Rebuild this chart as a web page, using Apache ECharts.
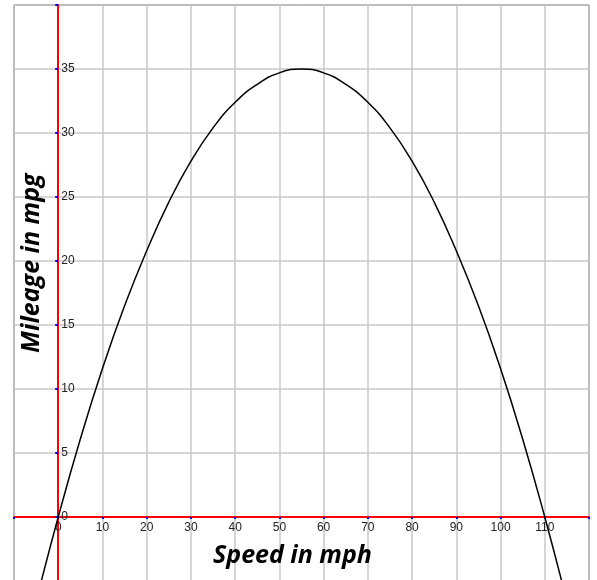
<!DOCTYPE html>
<html>
<head>
<meta charset="utf-8">
<script src="https://cdn.jsdelivr.net/npm/echarts@6/dist/echarts.min.js"></script>
<style>
html,body{margin:0;padding:0;background:#fff;}
#chart{width:597px;height:580px;}
</style>
</head>
<body>
<div id="chart"></div>
<script>
// Speed (mph)
var speeds = [-5, 0, 5, 10, 15, 20, 25, 30, 35, 40, 45, 50, 55, 60, 65, 70, 75, 80, 85, 90, 95, 100, 105, 110, 115];
// Mileage (mpg)
var mileage = [-6.6, 0, 6.1, 11.6, 16.5, 20.8, 24.6, 27.8, 30.4, 32.4, 33.8, 34.7, 35.0, 34.7, 33.8, 32.4, 30.4, 27.8, 24.6, 20.8, 16.5, 11.6, 6.1, 0, -6.6];
// Tick labels shown
var xTickLabels = ['0', '10', '20', '30', '40', '50', '60', '70', '80', '90', '100', '110'];
var yTickLabels = ['0', '5', '10', '15', '20', '25', '30', '35'];
var xTitle = 'Speed in mph';
var yTitle = 'Mileage in mpg';

var chart = echarts.init(document.getElementById('chart'), null, {renderer: 'canvas'});
var pts = speeds.map(function (s, i) { return [s, mileage[i]]; });
var labelFont = {fontFamily: 'Liberation Sans, Arial, sans-serif', fontSize: 12, color: '#222'};
var X_MIN = -10, X_MAX = 120, Y_MIN = -5, Y_MAX = 40;

chart.setOption({
  animation: false,
  backgroundColor: '#fff',
  grid: {left: 14, top: 5, width: 575, height: 576, containLabel: false, outerBoundsMode: 'none',
         show: true, borderColor: '#333', borderWidth: 1, backgroundColor: 'transparent'},
  xAxis: {
    type: 'value', min: X_MIN, max: X_MAX, interval: 10, position: 'bottom', offset: 0,
    axisLine: {onZero: false, lineStyle: {color: '#ff0000', width: 2}},
    axisTick: {show: true, length: 2, lineStyle: {color: '#0000ff', width: 2}},
    axisLabel: Object.assign({margin: 5, showMinLabel: true, showMaxLabel: true,
      formatter: function (v) { var s = String(v); return xTickLabels.indexOf(s) >= 0 ? s : ''; }}, labelFont),
    splitLine: {show: true, lineStyle: {color: '#c8c8c8', width: 1.5}}
  },
  yAxis: {
    type: 'value', min: Y_MIN, max: Y_MAX, interval: 5, position: 'left', offset: 0,
    axisLine: {onZero: false, lineStyle: {color: '#ff0000', width: 2}},
    axisTick: {show: true, length: 3, lineStyle: {color: '#0000ff', width: 2}},
    axisLabel: Object.assign({inside: true, margin: 3, showMinLabel: true, showMaxLabel: true,
      formatter: function (v) { var s = String(v); return yTickLabels.indexOf(s) >= 0 ? s : ''; }}, labelFont),
    splitLine: {show: true, lineStyle: {color: '#c8c8c8', width: 1.5}}
  },
  graphic: [
    {type: 'text', z: 100, left: 213, top: 543, style: {text: xTitle, font: 'italic bold 25px "Open Sans", sans-serif', fill: '#000'}},
    {type: 'text', z: 100, x: 19, y: 353, rotation: Math.PI / 2, style: {text: yTitle, font: 'italic bold 25px "Open Sans", sans-serif', fill: '#000', textAlign: 'left', textVerticalAlign: 'top'}}
  ],
  series: [{
    type: 'line', data: pts, smooth: true, showSymbol: false, clip: true,
    lineStyle: {color: '#000', width: 1.5}
  }]
});

// Move both axes (line, ticks, labels) onto the zero lines, using the library's scales
var px0 = chart.convertToPixel({xAxisIndex: 0}, 0);
var pxMin = chart.convertToPixel({xAxisIndex: 0}, X_MIN);
var py0 = chart.convertToPixel({yAxisIndex: 0}, 0);
var pyMin = chart.convertToPixel({yAxisIndex: 0}, Y_MIN);
chart.setOption({
  xAxis: {offset: -(pyMin - py0)},
  yAxis: {offset: -(px0 - pxMin)}
});
</script>
</body>
</html>
